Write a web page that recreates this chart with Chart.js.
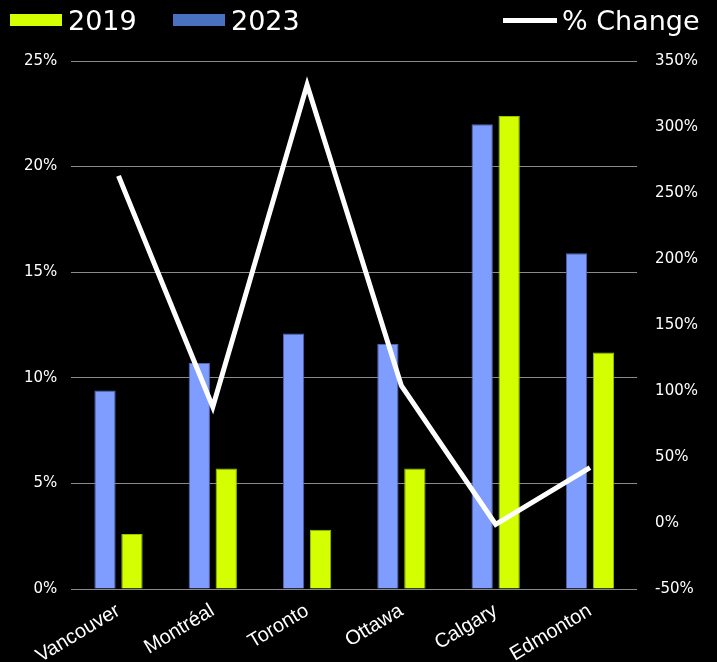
<!DOCTYPE html>
<html>
<head>
<meta charset="utf-8">
<script src="https://cdn.jsdelivr.net/npm/chart.js@4"></script>
<style>
  html, body { margin: 0; padding: 0; background: #000; }
  #wrap { position: relative; width: 717px; height: 662px; }
  #legend { position: absolute; left: 0; top: 0; width: 717px; height: 40px; font-family: "DejaVu Sans", sans-serif; font-size: 27px; color: #fff; }
  .item { position: absolute; top: 4px; display: flex; align-items: center; height: 32px; }
  .swatch { display: inline-block; width: 52px; height: 12px; margin-right: 6px; }
  .lineSw { display: inline-block; width: 54px; height: 5px; margin-right: 5px; background: #fff; }
</style>
</head>
<body>
<div id="wrap">
  <canvas id="chart" width="717" height="662"></canvas>
  <div id="legend"></div>
</div>
<script>
// City rates
const cities = ["Vancouver", "Montréal", "Toronto", "Ottawa", "Calgary", "Edmonton"];
const rate2019 = [2.6, 5.7, 2.8, 5.7, 22.4, 11.2];
const rate2023 = [9.4, 10.7, 12.1, 11.6, 22.0, 15.9];
const pctChange = [263, 88, 332, 104, -1, 42];

const leftTicks = { min: 0, max: 25, step: 5 };
const rightTicks = { min: -50, max: 350, step: 50 };

const tickFont = { family: "DejaVu Sans", size: 15 };

function buildLegend() {
    const legend = document.getElementById('legend');
    const items = [
        { text: '2019', color: '#d4ff00', left: 10, kind: 'box' },
        { text: '2023', color: '#4a70c2', left: 173, kind: 'box' },
        { text: '% Change', color: '#fff', left: 503, kind: 'line' }
    ];
    items.forEach(it => {
        const div = document.createElement('div');
        div.className = 'item';
        div.style.left = it.left + 'px';
        const sw = document.createElement('span');
        sw.className = it.kind === 'box' ? 'swatch' : 'lineSw';
        sw.style.background = it.color;
        div.appendChild(sw);
        div.appendChild(document.createTextNode(it.text));
        legend.appendChild(div);
    });
}

function createChart() {
    const ctx = document.getElementById('chart').getContext('2d');
    new Chart(ctx, {
        data: {
            labels: cities,
            datasets: [
                {
                    type: 'line',
                    label: '% Change',
                    data: pctChange,
                    yAxisID: 'y2',
                    borderColor: '#ffffff',
                    borderWidth: 5,
                    pointRadius: 0,
                    tension: 0,
                    order: 0
                },
                {
                    type: 'bar',
                    label: '2023',
                    data: rate2023,
                    yAxisID: 'y',
                    backgroundColor: '#7f9dff',
                    borderColor: '#4f66b0',
                    borderWidth: 1,
                    categoryPercentage: 0.572,
                    barPercentage: 0.79,
                    order: 1
                },
                {
                    type: 'bar',
                    label: '2019',
                    data: rate2019,
                    yAxisID: 'y',
                    backgroundColor: '#d4ff00',
                    borderColor: '#9fbf00',
                    borderWidth: 1,
                    categoryPercentage: 0.572,
                    barPercentage: 0.79,
                    order: 1
                }
            ]
        },
        options: {
            responsive: false,
            animation: false,
            layout: { padding: { top: 61, left: 10, right: 9, bottom: 0 } },
            plugins: {
                legend: { display: false },
                tooltip: { enabled: false }
            },
            scales: {
                x: {
                    grid: { display: false },
                    border: { display: false },
                    afterFit: scale => { scale.height = 73; },
                    ticks: {
                        color: '#ffffff',
                        font: { family: "Liberation Sans", size: 20 },
                        minRotation: 31,
                        maxRotation: 31,
                        padding: 2
                    }
                },
                y: {
                    position: 'left',
                    min: leftTicks.min,
                    max: leftTicks.max,
                    grid: { color: '#8a8a8a', lineWidth: 1, drawTicks: false },
                    border: { display: false },
                    ticks: {
                        stepSize: leftTicks.step,
                        color: '#ffffff',
                        font: tickFont,
                        padding: 14,
                        callback: v => v + '%'
                    }
                },
                y2: {
                    position: 'right',
                    min: rightTicks.min,
                    max: rightTicks.max,
                    grid: { display: false },
                    border: { display: false },
                    ticks: {
                        stepSize: rightTicks.step,
                        color: '#ffffff',
                        font: tickFont,
                        padding: 10,
                        callback: v => v + '%'
                    }
                }
            }
        }
    });
}

buildLegend();
createChart();
</script>
</body>
</html>
